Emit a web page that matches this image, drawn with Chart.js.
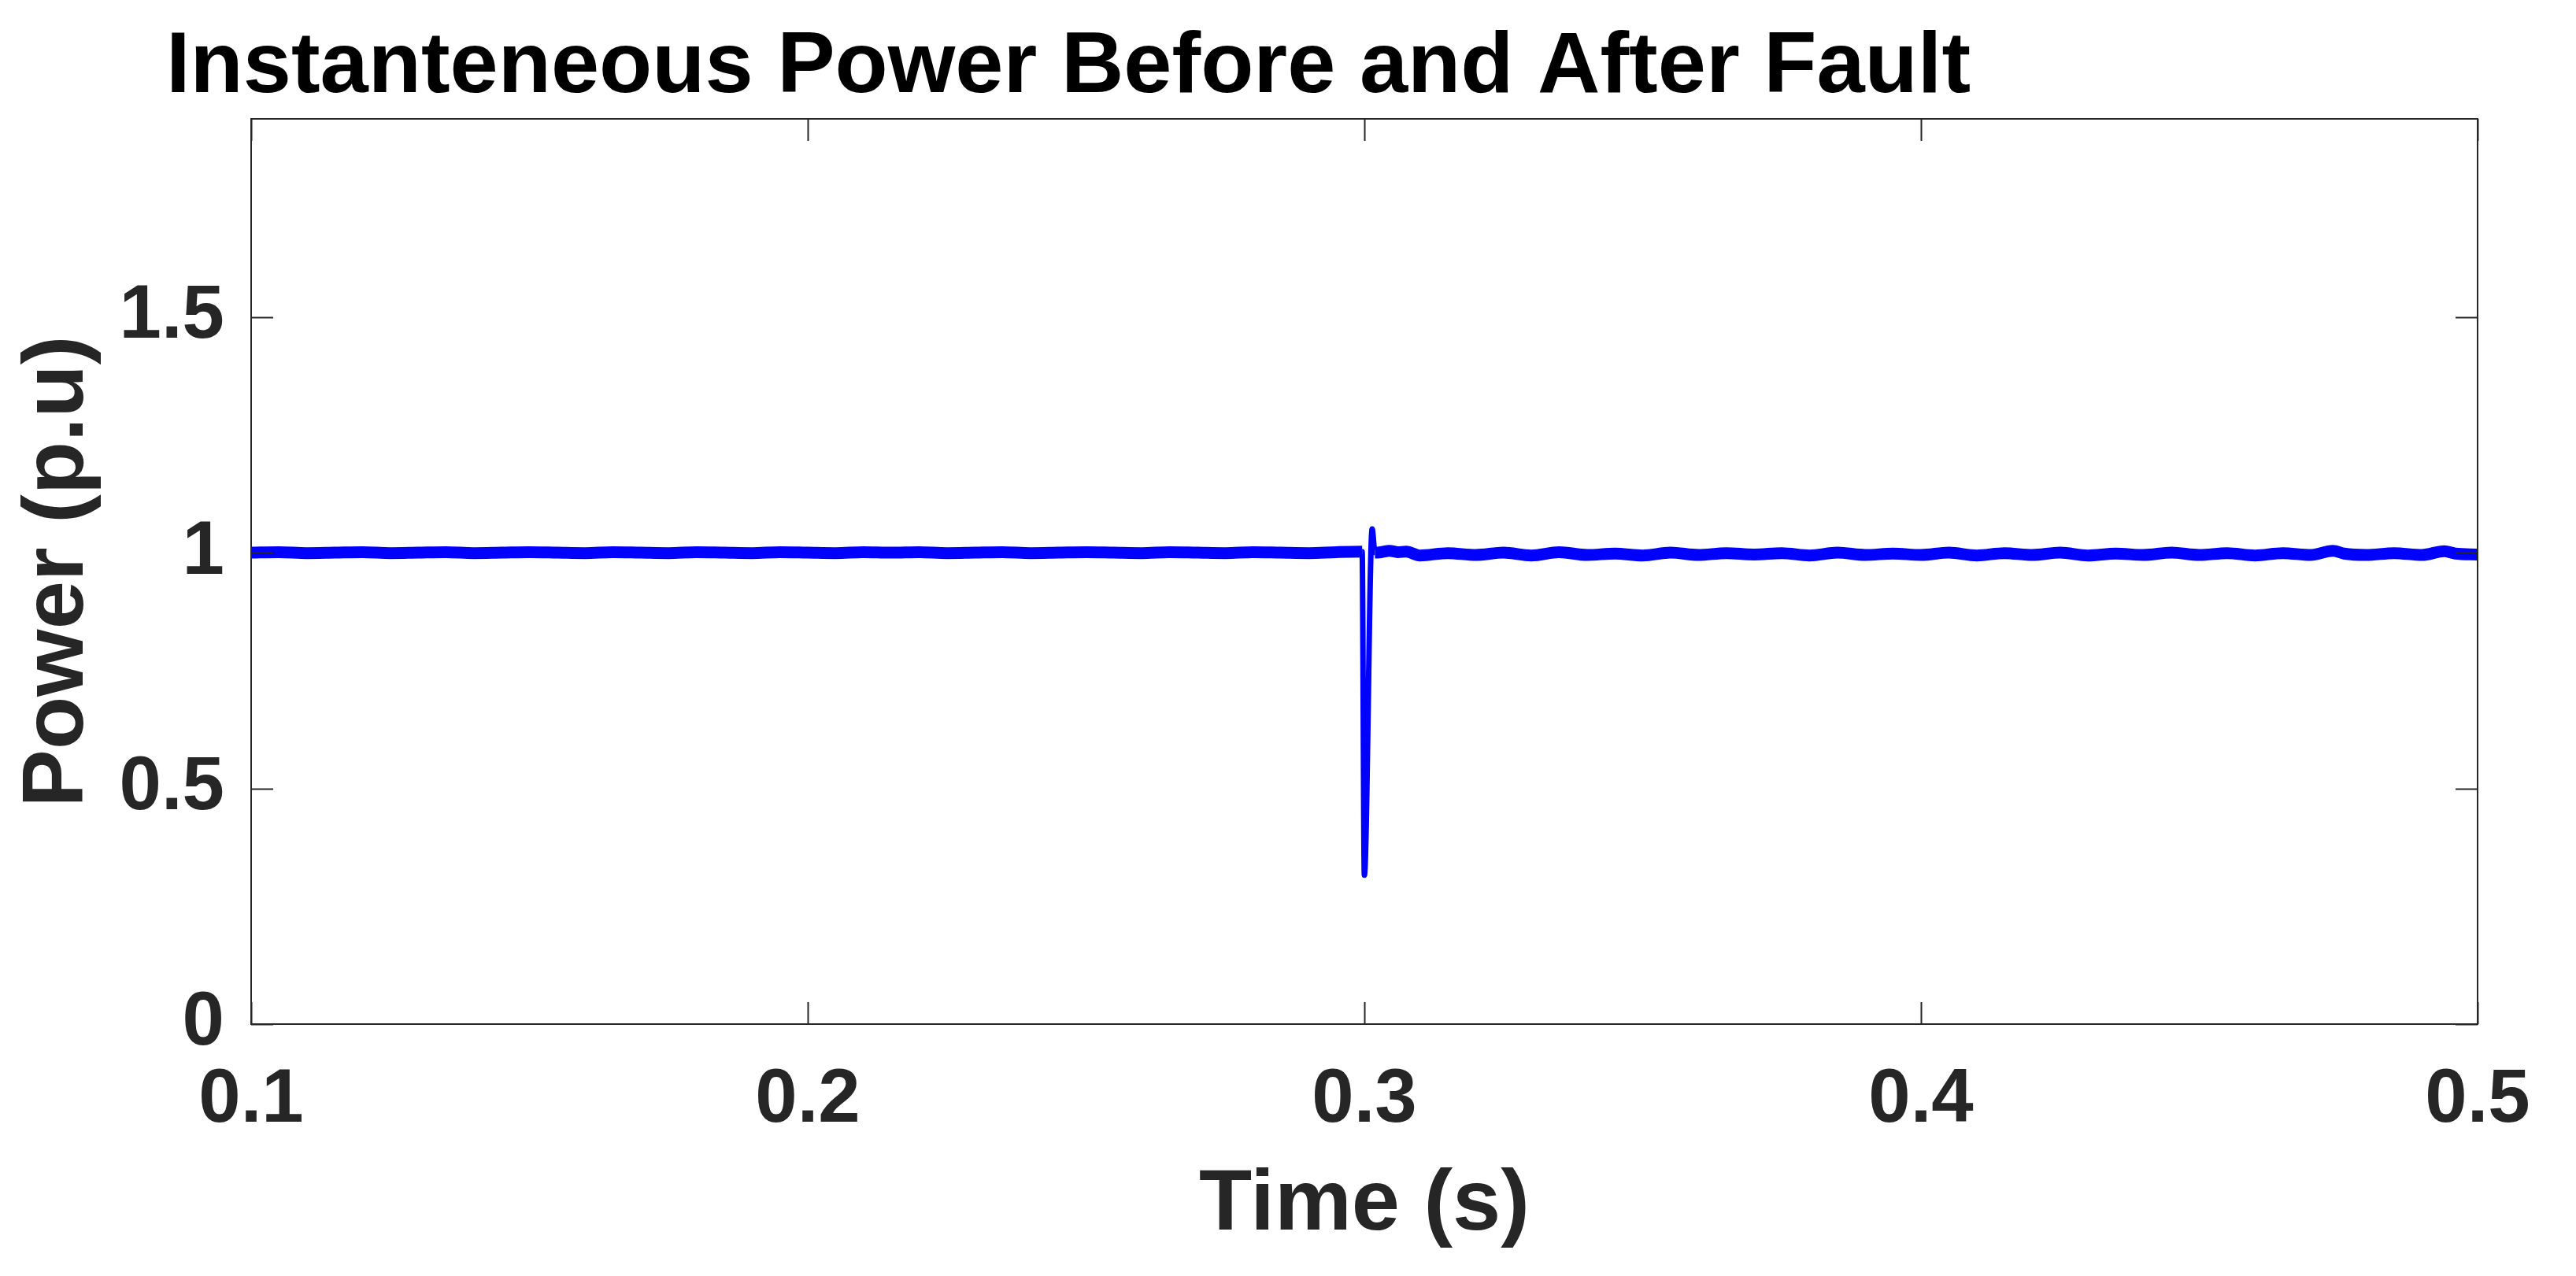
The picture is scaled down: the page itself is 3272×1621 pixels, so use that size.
<!DOCTYPE html>
<html lang="en">
  <head>
    <meta charset="UTF-8" />
    <title>Instanteneous Power Before and After Fault</title>
    <script src="https://cdn.jsdelivr.net/npm/chart.js"></script>
    <style>
      body { margin: 0; background: #fff; overflow: hidden; }
    </style>
  </head>
  <body>
    <canvas id="powerChart" width="3272" height="1621"></canvas>
    <script>
      // values
      const chartTitle = "Instanteneous Power Before and After Fault";
      const xLabel = "Time (s)";
      const yLabel = "Power (p.u)";
      const xTicks = [0.1, 0.2, 0.3, 0.4, 0.5];
      const yTicks = [0, 0.5, 1, 1.5];

      const timeS = [
        0.100, 0.105, 0.110, 0.115, 0.120, 0.125, 0.130, 0.135, 0.140, 0.145,
        0.150, 0.155, 0.160, 0.165, 0.170, 0.175, 0.180, 0.185, 0.190, 0.195,
        0.200, 0.205, 0.210, 0.215, 0.220, 0.225, 0.230, 0.235, 0.240, 0.245,
        0.250, 0.255, 0.260, 0.265, 0.270, 0.275, 0.280, 0.285, 0.290, 0.295,
        0.2996, 0.3000, 0.3014, 0.3019,
        0.3030, 0.3045, 0.3060, 0.3075, 0.310, 0.315, 0.320, 0.325, 0.330, 0.335,
        0.340, 0.345, 0.350, 0.355, 0.360, 0.365, 0.370, 0.375, 0.380, 0.385,
        0.390, 0.395, 0.400, 0.405, 0.410, 0.415, 0.420, 0.425, 0.430, 0.435,
        0.440, 0.445, 0.450, 0.455, 0.460, 0.465, 0.470, 0.474, 0.476, 0.480,
        0.485, 0.490, 0.494, 0.496, 0.500
      ];
      const powerPU = [
        1.000, 1.001, 0.999, 1.000, 1.001, 0.999, 1.000, 1.001, 0.999, 1.000,
        1.001, 1.000, 0.999, 1.001, 1.000, 0.999, 1.001, 1.000, 0.999, 1.001,
        1.000, 0.999, 1.001, 1.000, 1.001, 0.999, 1.000, 1.001, 0.999, 1.000,
        1.001, 1.000, 0.999, 1.001, 1.000, 0.999, 1.001, 1.000, 0.999, 1.001,
        1.002, 0.316, 1.050, 1.000,
        1.001, 1.004, 1.001, 1.002, 0.994, 0.999, 0.995, 1.000, 0.994, 1.001,
        0.995, 0.998, 0.994, 1.000, 0.995, 0.999, 0.996, 0.999, 0.994, 1.000,
        0.995, 0.998, 0.995, 1.000, 0.994, 0.999, 0.995, 1.000, 0.994, 0.998,
        0.995, 1.000, 0.995, 0.999, 0.994, 0.999, 0.995, 1.004, 0.998, 0.995,
        0.999, 0.995, 1.003, 0.998, 0.996
      ];

      const axisColor = "#262626";
      const fontFamily = "'Liberation Sans', Arial, Helvetica, sans-serif";

      // matlab-ish box with inward ticks on all four sides + title
      const matlabFrame = {
        id: "matlabFrame",
        afterDraw(chart) {
          const { ctx, chartArea: a, scales } = chart;
          const len = 28;
          ctx.save();
          ctx.strokeStyle = axisColor;
          ctx.lineWidth = 2;
          ctx.beginPath();
          scales.x.ticks.forEach((t) => {
            const px = Math.round(scales.x.getPixelForValue(t.value)) + 0.5;
            ctx.moveTo(px, a.bottom);
            ctx.lineTo(px, a.bottom - len);
            ctx.moveTo(px, a.top);
            ctx.lineTo(px, a.top + len);
          });
          scales.y.ticks.forEach((t) => {
            const py = Math.round(scales.y.getPixelForValue(t.value)) + 0.5;
            ctx.moveTo(a.left, py);
            ctx.lineTo(a.left + len, py);
            ctx.moveTo(a.right, py);
            ctx.lineTo(a.right - len, py);
          });
          ctx.stroke();
          ctx.strokeRect(a.left, a.top, a.right - a.left, a.bottom - a.top);

          ctx.fillStyle = "#000";
          ctx.font = "bold 110px " + fontFamily;
          ctx.textAlign = "left";
          ctx.textBaseline = "alphabetic";
          ctx.fillText(chartTitle, 211, 117);
          ctx.restore();
        },
      };

      const points = timeS.map((t, i) => ({ x: t, y: powerPU[i] }));

      new Chart(document.getElementById("powerChart"), {
        type: "line",
        data: {
          datasets: [
            {
              data: points,
              borderColor: "#0000FF",
              backgroundColor: "#0000FF",
              borderWidth: 15,
              pointRadius: 0,
              cubicInterpolationMode: "monotone",
              segment: {
                // the fault spike is drawn thinner than the noisy band
                borderWidth: (ctx) =>
                  ctx.p0.parsed.x >= 0.2995 && ctx.p1.parsed.x <= 0.302 ? 7 : undefined,
              },
            },
          ],
        },
        options: {
          responsive: false,
          animation: false,
          devicePixelRatio: 1,
          layout: { padding: { top: 151, right: 125, left: 0, bottom: 0 } },
          plugins: {
            legend: { display: false },
            tooltip: { enabled: false },
            title: { display: false },
          },
          scales: {
            x: {
              type: "linear",
              min: 0.1,
              max: 0.5,
              afterBuildTicks: (s) => {
                s.ticks = xTicks.map((v) => ({ value: v }));
              },
              afterFit: (s) => {
                s.height = 320;
              },
              grid: { display: false, drawTicks: false },
              border: { display: false },
              ticks: {
                color: axisColor,
                font: { family: fontFamily, size: 96, weight: "bold" },
                padding: 40,
                maxRotation: 0,
                callback: (v) => String(Number(v.toFixed(2))),
              },
              title: {
                display: true,
                text: xLabel,
                color: axisColor,
                font: { family: fontFamily, size: 110, weight: "bold" },
                padding: { top: 0, bottom: 23 },
              },
            },
            y: {
              min: 0,
              max: 1.92,
              afterBuildTicks: (s) => {
                s.ticks = yTicks.map((v) => ({ value: v }));
              },
              afterFit: (s) => {
                s.width = 319;
              },
              grid: { display: false, drawTicks: false },
              border: { display: false },
              ticks: {
                color: axisColor,
                font: { family: fontFamily, size: 96, weight: "bold" },
                padding: 34,
                callback: (v) => String(v),
              },
              title: {
                display: true,
                text: yLabel,
                color: axisColor,
                font: { family: fontFamily, size: 110, weight: "bold" },
                padding: { top: 9, bottom: 0 },
              },
            },
          },
        },
        plugins: [matlabFrame],
      });
    </script>
  </body>
</html>
